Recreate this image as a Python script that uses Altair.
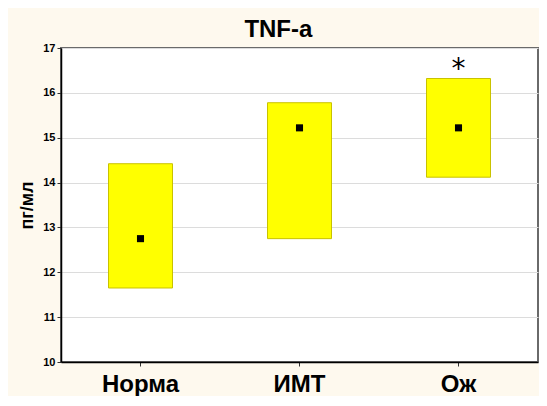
import altair as alt
import pandas as pd

groups = ["Норма", "ИМТ", "Ож"]
low = [11.65, 12.75, 14.12]
high = [14.42, 15.78, 16.32]
mean = [12.75, 15.22, 15.22]
marks = ["", "", "*"]
star_y = [None, None, 16.72]

df = pd.DataFrame({"g": groups, "low": low, "high": high, "mean": mean,
                   "mark": marks, "sy": star_y})

FONT = "Liberation Sans"
xenc = alt.X("g:N", sort=groups, title=None,
             axis=alt.Axis(labelAngle=0, labelFontSize=24, labelFont=FONT,
                           labelFontWeight="bold", labelColor="#000",
                           labelPadding=6, tickSize=4, tickColor="#333",
                           domainColor="#000", domainWidth=1.5))
yscale = alt.Scale(domain=[10, 17], nice=False, zero=False)
yaxis = alt.Axis(values=[10, 11, 12, 13, 14, 15, 16, 17], title="пг/мл",
                 titleFont=FONT, titleFontSize=18, titleFontWeight="bold",
                 titleColor="#000", titlePadding=6,
                 labelFont=FONT, labelFontSize=11, labelFontWeight="bold",
                 labelColor="#000", labelPadding=2, tickSize=4,
                 tickColor="#333", domainColor="#000", domainWidth=1.5,
                 grid=True, gridColor="#dcdcdc", gridWidth=1.2)

base = alt.Chart(df)

boxes = base.mark_bar(size=64, color="#ffff00", stroke="#c9c200",
                      strokeWidth=1).encode(
    x=xenc,
    y=alt.Y("low:Q", scale=yscale, axis=yaxis),
    y2="high:Q",
)

points = base.mark_square(size=50, color="#000", opacity=1).encode(
    x=alt.X("g:N", sort=groups),
    y=alt.Y("mean:Q", scale=yscale),
)

star = base.transform_filter("datum.mark != ''").mark_text(
    font="DejaVu Sans", fontSize=28, fontWeight="normal", color="#000",
    baseline="middle", dy=9).encode(
    x=alt.X("g:N", sort=groups),
    y=alt.Y("sy:Q", scale=yscale),
    text="mark:N",
)

chart = alt.layer(boxes, points, star).properties(
    width=477, height=314,
    title=alt.Title("TNF-a", font=FONT, fontSize=24, fontWeight="bold",
                    color="#000", anchor="middle", frame="bounds", offset=0),
    background="#fef9ee",
    padding={"left": 53, "top": 40, "right": 1, "bottom": 34},
    autosize=alt.AutoSizeParams(type="none"),
).configure_view(fill="#ffffff", stroke="#6a6a6a", strokeWidth=2)

chart.save("out.html", embed_options={"renderer": "svg", "actions": False})
